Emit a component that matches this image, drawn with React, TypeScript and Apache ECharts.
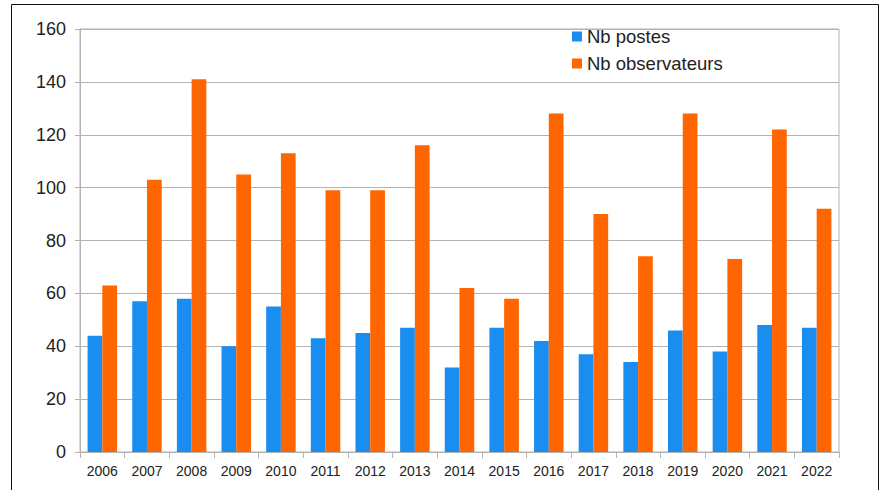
import React, { useEffect, useRef } from "react";
import * as echarts from "echarts";

const years = ["2006","2007","2008","2009","2010","2011","2012","2013","2014","2015","2016","2017","2018","2019","2020","2021","2022"];
const nbPostes = [44, 57, 58, 40, 55, 43, 45, 47, 32, 47, 42, 37, 34, 46, 38, 48, 47];
const nbObservateurs = [63, 103, 141, 105, 113, 99, 99, 116, 62, 58, 128, 90, 74, 128, 73, 122, 92];
const seriesNames = ["Nb postes", "Nb observateurs"];

export default function App() {
  const ref = useRef<HTMLDivElement>(null);
  useEffect(() => {
    if (!ref.current) return;
    const chart = echarts.init(ref.current, null, { renderer: "svg" });
    const font = "'Liberation Sans', Arial, sans-serif";
    chart.setOption({
      animation: false,
      backgroundColor: "#ffffff",
      textStyle: { fontFamily: font },
      graphic: [
        {
          type: "rect",
          shape: { x: 11.5, y: 4.5, width: 867, height: 520 },
          style: { fill: "none", stroke: "#111", lineWidth: 1 },
          silent: true,
          z: 100,
        },
      ],
      grid: {
        left: 80,
        right: 45,
        top: 29,
        bottom: 38,
        show: true,
        borderColor: "#b3b3b3",
        borderWidth: 1,
        backgroundColor: "transparent",
      },
      legend: {
        orient: "vertical",
        left: 567,
        top: 22,
        itemWidth: 10,
        itemHeight: 10,
        itemGap: 8,
        icon: "rect",
        textStyle: { fontSize: 18.5, color: "#222", fontFamily: font },
        data: seriesNames,
      },
      xAxis: {
        type: "category",
        data: years,
        axisLine: { show: true, lineStyle: { color: "#b3b3b3" } },
        axisTick: { show: true, length: 6, lineStyle: { color: "#b3b3b3" } },
        axisLabel: { fontSize: 14, color: "#222", margin: 12, fontFamily: font },
        splitLine: { show: false },
      },
      yAxis: {
        type: "value",
        min: 0,
        max: 160,
        interval: 20,
        axisLine: { show: true, lineStyle: { color: "#b3b3b3" } },
        axisTick: { show: true, length: 5, inside: false, lineStyle: { color: "#b3b3b3" } },
        axisLabel: { fontSize: 18, color: "#222", margin: 14, fontFamily: font },
        splitLine: { show: true, lineStyle: { color: "#b3b3b3", width: 1 } },
      },
      series: [
        {
          name: seriesNames[0],
          type: "bar",
          data: nbPostes,
          itemStyle: { color: "#1a8ef0" },
          barGap: "0%",
          barCategoryGap: "34%",
        },
        {
          name: seriesNames[1],
          type: "bar",
          data: nbObservateurs,
          itemStyle: { color: "#ff6600" },
          barGap: "0%",
          barCategoryGap: "34%",
        },
      ],
    });
    return () => chart.dispose();
  }, []);
  return (
    <div
      ref={ref}
      style={{ position: "fixed", left: 0, top: 0, width: 884, height: 490 }}
    />
  );
}
